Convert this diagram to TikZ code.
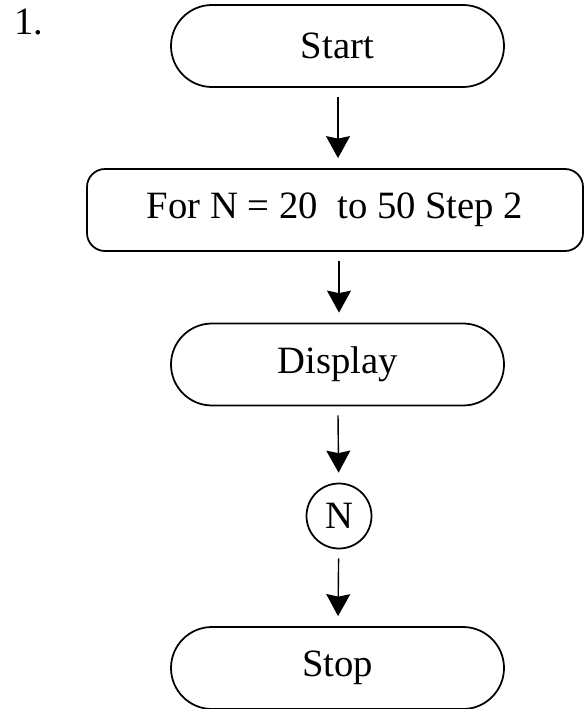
\documentclass[tikz,border=0pt]{standalone}
\usepackage{fontspec}
\setmainfont{Liberation Serif}
\usetikzlibrary{arrows.meta}

\tikzset{
  term/.style={draw, line width=1pt, rounded corners=0.82cm, minimum width=6.66cm, minimum height=1.64cm, inner sep=0pt},
  loopbox/.style={draw, line width=1pt, rounded corners=0.36cm, minimum width=9.92cm, minimum height=1.64cm, inner sep=0pt},
  conn/.style={draw, circle, line width=1pt, minimum size=1.3cm, inner sep=0pt},
  flow/.style={line width=0.8pt, -{Stealth[length=0.44cm, width=0.48cm, inset=0.05cm]}, shorten <=0.18cm, shorten >=0.2cm}
}

\begin{document}
\begin{tikzpicture}[font=\fontsize{22}{26}\selectfont]
\useasboundingbox (0,0) rectangle (11.7,-14.18);
\node[anchor=base west](num) at (0.16,-0.70) {1.};
\node[term](start) at (6.75,-0.92) {Start};
\node[loopbox](for) at (6.70,-4.20) {For N = 20\ \ to 50 Step 2};
\node[term](disp) at (6.75,-7.29) {Display};
\node[conn](n) at (6.78,-10.32) {N};
\node[term](stop) at (6.75,-13.36) {Stop};
\draw[flow] (start.south -| 6.76,0) -- (for.north -| 6.76,0);
\draw[flow] (for.south -| 6.78,0) -- (disp.north -| 6.78,0);
\draw[flow] (disp) -- (n);
\draw[flow] (n) -- (stop);
\end{tikzpicture}
\end{document}
